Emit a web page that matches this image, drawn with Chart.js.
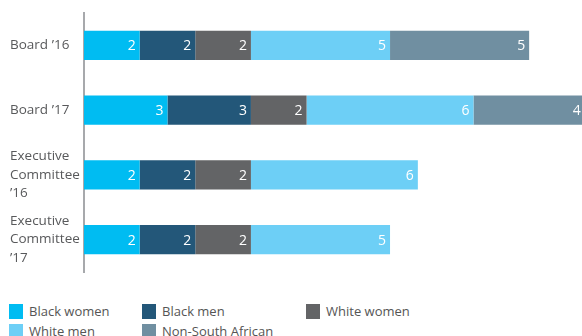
<!DOCTYPE html>
<html>
<head>
<meta charset="utf-8">
<script src="https://cdn.jsdelivr.net/npm/chart.js@4/dist/chart.umd.min.js"></script>
<style>
  html, body { margin: 0; padding: 0; background: #fff; }
  #wrap { position: relative; width: 582px; height: 336px; overflow: hidden; font-family: "Open Sans", sans-serif; }
  #chart-box { position: absolute; left: 0; top: 0; width: 582px; height: 300px; }
  #legend { position: absolute; left: 9px; top: 302px; width: 573px; }
  .item { position: absolute; display: flex; align-items: center; font-size: 13px; color: #555; white-space: nowrap; }
  .swatch { width: 14px; height: 15px; margin-right: 6px; }
</style>
</head>
<body>
<div id="wrap">
  <div id="chart-box"><canvas id="board-chart"></canvas></div>
  <div id="legend"></div>
</div>
<script>
// Board / ExCo composition, stacked horizontal bars

const categories = [
  ['Board ’16'],
  ['Board ’17'],
  ['Executive', 'Committee', '’16'],
  ['Executive', 'Committee', '’17']
]
const seriesNames = ['Black women', 'Black men', 'White women', 'White men', 'Non-South African']
const blackWomen = [2, 3, 2, 2]
const blackMen = [2, 3, 2, 2]
const whiteWomen = [2, 2, 2, 2]
const whiteMen = [5, 6, 6, 5]
const nonSouthAfrican = [5, 4, 0, 0]

const COLORS = ['#00bcf2', '#235779', '#636466', '#6dcff6', '#708fa1']

// white value labels at the inner end of each segment
const segmentLabels = {
  id: 'segmentLabels',
  afterDatasetsDraw(chart) {
    const ctx = chart.ctx
    ctx.save()
    ctx.font = '14px "Open Sans", sans-serif'
    ctx.fillStyle = '#fff'
    ctx.textAlign = 'right'
    ctx.textBaseline = 'middle'
    chart.data.datasets.forEach((ds, i) => {
      const meta = chart.getDatasetMeta(i)
      meta.data.forEach((bar, j) => {
        const v = ds.data[j]
        if (!v) return
        ctx.fillText(String(v), bar.x - 4, bar.y + 1)
      })
    })
    ctx.restore()
  }
}

const allSeries = [blackWomen, blackMen, whiteWomen, whiteMen, nonSouthAfrican]

const chart = new Chart(document.getElementById('board-chart'), {
  type: 'bar',
  data: {
    labels: categories,
    datasets: allSeries.map((d, i) => ({
      label: seriesNames[i],
      data: d,
      backgroundColor: COLORS[i],
      borderWidth: 0,
      categoryPercentage: 1,
      barPercentage: 0.45
    }))
  },
  options: {
    indexAxis: 'y',
    responsive: true,
    maintainAspectRatio: false,
    animation: false,
    layout: { padding: { left: 10, top: 13, right: 0, bottom: 28 } },
    scales: {
      x: {
        stacked: true,
        display: false,
        min: 0,
        max: 17.9
      },
      y: {
        stacked: true,
        grid: { display: false },
        border: { display: true, color: '#a7a9ac', width: 2 },
        ticks: {
          crossAlign: 'far',
          padding: 4,
          color: '#58595b',
          font: { family: '"Open Sans", sans-serif', size: 13.5, lineHeight: 1.35 }
        },
        afterFit(scale) {
          // fixed label column, no extra vertical padding
          scale.width = 74
          scale.paddingTop = 0
          scale.paddingBottom = 0
        }
      }
    },
    plugins: {
      legend: { display: false },
      tooltip: { enabled: false }
    }
  },
  plugins: [segmentLabels]
})

// legend in a fixed three-column grid
const legendEl = document.getElementById('legend')
const colX = [0, 133, 297]
seriesNames.forEach((name, i) => {
  const item = document.createElement('div')
  item.className = 'item'
  item.style.left = colX[i % 3] + 'px'
  item.style.top = (Math.floor(i / 3) * 20) + 'px'
  item.innerHTML = '<span class="swatch" style="background:' + COLORS[i] + '"></span>' + name
  legendEl.appendChild(item)
})
</script>
</body>
</html>
